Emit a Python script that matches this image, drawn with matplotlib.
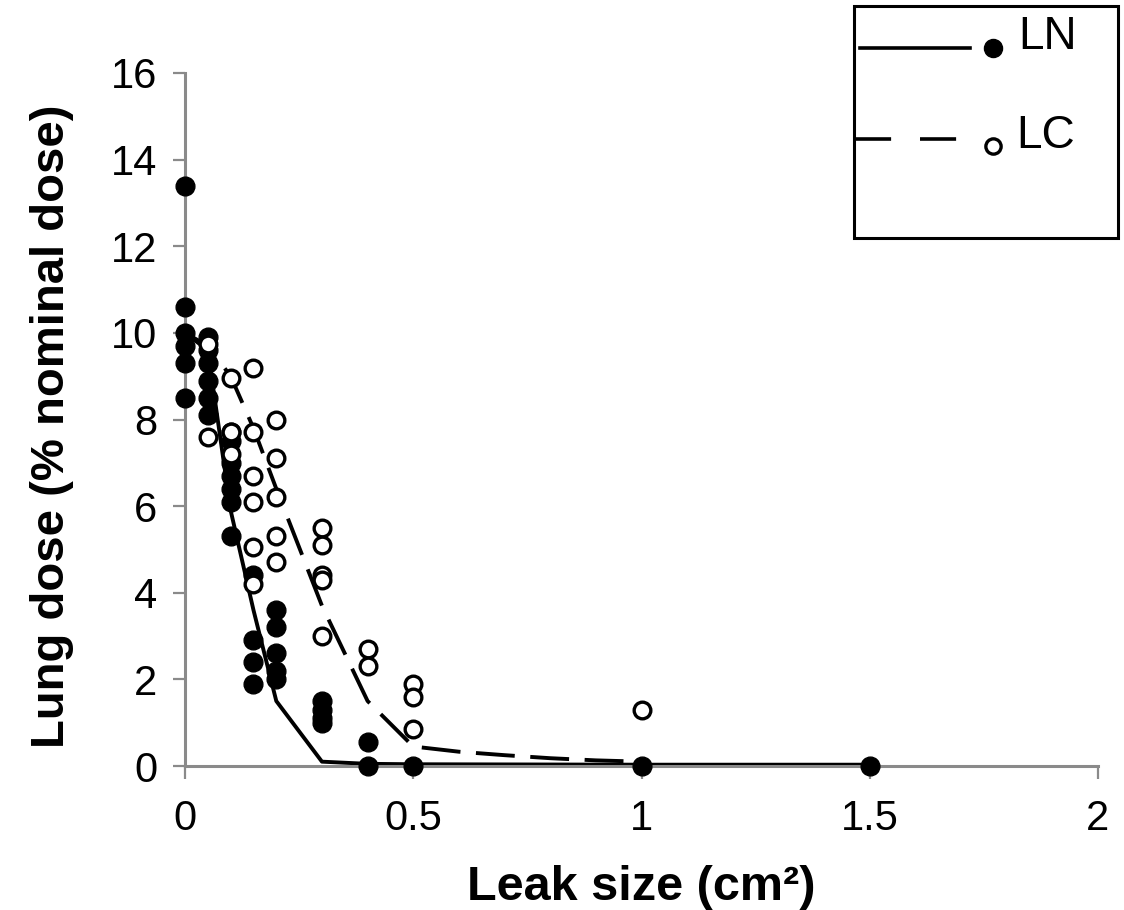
import matplotlib
matplotlib.use('Agg')
import matplotlib.pyplot as plt
from matplotlib.patches import Rectangle

plt.rcParams['font.family'] = ['Liberation Sans', 'DejaVu Sans']

# measured points, LN (filled) and LC (open)
ln_x = [0, 0, 0, 0, 0, 0,
        0.05, 0.05, 0.05, 0.05, 0.05, 0.05,
        0.1, 0.1, 0.1, 0.1, 0.1, 0.1, 0.1,
        0.15, 0.15, 0.15, 0.15,
        0.2, 0.2, 0.2, 0.2, 0.2,
        0.3, 0.3, 0.3, 0.3,
        0.4, 0.4, 0.5, 1.0, 1.5]
ln_y = [13.4, 10.6, 10.0, 9.7, 9.3, 8.5,
        9.9, 9.6, 9.3, 8.9, 8.5, 8.1,
        7.7, 7.5, 7.0, 6.7, 6.4, 6.1, 5.3,
        4.4, 2.9, 2.4, 1.9,
        3.6, 3.2, 2.6, 2.2, 2.0,
        1.5, 1.3, 1.1, 1.0,
        0.55, 0.0, 0.0, 0.0, 0.0]

lc_x = [0.05, 0.05,
        0.1, 0.1, 0.1,
        0.15, 0.15, 0.15, 0.15, 0.15, 0.15,
        0.2, 0.2, 0.2, 0.2, 0.2,
        0.3, 0.3, 0.3, 0.3, 0.3,
        0.4, 0.4,
        0.5, 0.5, 0.5,
        1.0]
lc_y = [9.75, 7.6,
        8.95, 7.7, 7.2,
        9.2, 7.7, 6.7, 6.1, 5.05, 4.2,
        8.0, 7.1, 6.2, 5.3, 4.7,
        5.5, 5.1, 4.4, 4.3, 3.0,
        2.7, 2.3,
        1.9, 1.6, 0.85,
        1.3]

# fitted curves
ln_fit_x = [0, 0.05, 0.1, 0.15, 0.2, 0.3, 0.4, 0.5, 1.0, 1.5]
ln_fit_y = [10.0, 9.6, 5.9, 3.6, 1.5, 0.1, 0.05, 0.04, 0.03, 0.03]
lc_fit_x = [0, 0.05, 0.1, 0.15, 0.2, 0.3, 0.4, 0.5, 0.6, 0.7, 0.8, 0.9, 1.0]
lc_fit_y = [10.0, 9.7, 9.0, 7.8, 6.4, 3.7, 1.5, 0.45, 0.33, 0.25, 0.18, 0.13, 0.1]

xticks = [0, 0.5, 1, 1.5, 2]
xtick_labels = ['0', '0.5', '1', '1.5', '2']
yticks = [0, 2, 4, 6, 8, 10, 12, 14, 16]

W, H = 1124, 910
fig = plt.figure(figsize=(W / 100, H / 100), dpi=100)
ax = fig.add_axes([185 / W, 1 - 766 / H, (1098 - 185) / W, (766 - 73) / H])

ax.plot(ln_fit_x, ln_fit_y, '-', color='black', lw=2.8, clip_on=False, zorder=2)
ax.plot(lc_fit_x, lc_fit_y, color='black', lw=2.8, dashes=(10, 4), clip_on=False, zorder=2)
ax.plot(ln_x, ln_y, 'o', ms=13.5, mfc='black', mec='black', mew=1, ls='none', clip_on=False, zorder=3)
ax.plot(lc_x, lc_y, 'o', ms=12, mfc='white', mec='black', mew=2.4, ls='none', clip_on=False, zorder=4)

ax.set_xlim(0, 2)
ax.set_ylim(0, 16)
ax.set_xticks(xticks)
ax.set_xticklabels(xtick_labels)
ax.set_yticks(yticks)

for s in ['top', 'right']:
    ax.spines[s].set_visible(False)
for s in ['left', 'bottom']:
    ax.spines[s].set_color('#8a8a8a')
    ax.spines[s].set_linewidth(2.2)

ax.tick_params(axis='both', direction='out', length=9, width=1.6, color='#8a8a8a',
               labelsize=30)
ax.tick_params(axis='y', pad=11)
ax.tick_params(axis='x', pad=15)

ax.set_ylabel('Lung dose (% nominal dose)', fontsize=34, fontweight='bold')
ax.set_xlabel('Leak size (cm²)', fontsize=35, fontweight='bold')
ax.yaxis.set_label_coords(-0.122, 0.49)
ax.xaxis.set_label_coords(0.5, -0.143)

# legend drawn in pixel space
lg = fig.add_axes([0, 0, 1, 1], zorder=10)
lg.set_xlim(0, W)
lg.set_ylim(H, 0)
lg.axis('off')
lg.patch.set_alpha(0)
lg.add_patch(Rectangle((854, 6), 1118 - 854, 238 - 6, fill=False, ec='black', lw=2.2))
lg.plot([860, 970], [48, 48], '-', color='black', lw=2.6)
lg.plot([993], [48], 'o', ms=13, mfc='black', mec='black', mew=1)
lg.text(1018, 49, 'LN', fontsize=33, va='baseline', ha='left')
lg.plot([855, 957], [139, 139], color='black', lw=2.6, dashes=(10, 8))
lg.plot([993], [146], 'o', ms=11, mfc='white', mec='black', mew=2.4)
lg.text(1016, 148, 'LC', fontsize=33, va='baseline', ha='left')

fig.savefig('out.png', dpi=100)
